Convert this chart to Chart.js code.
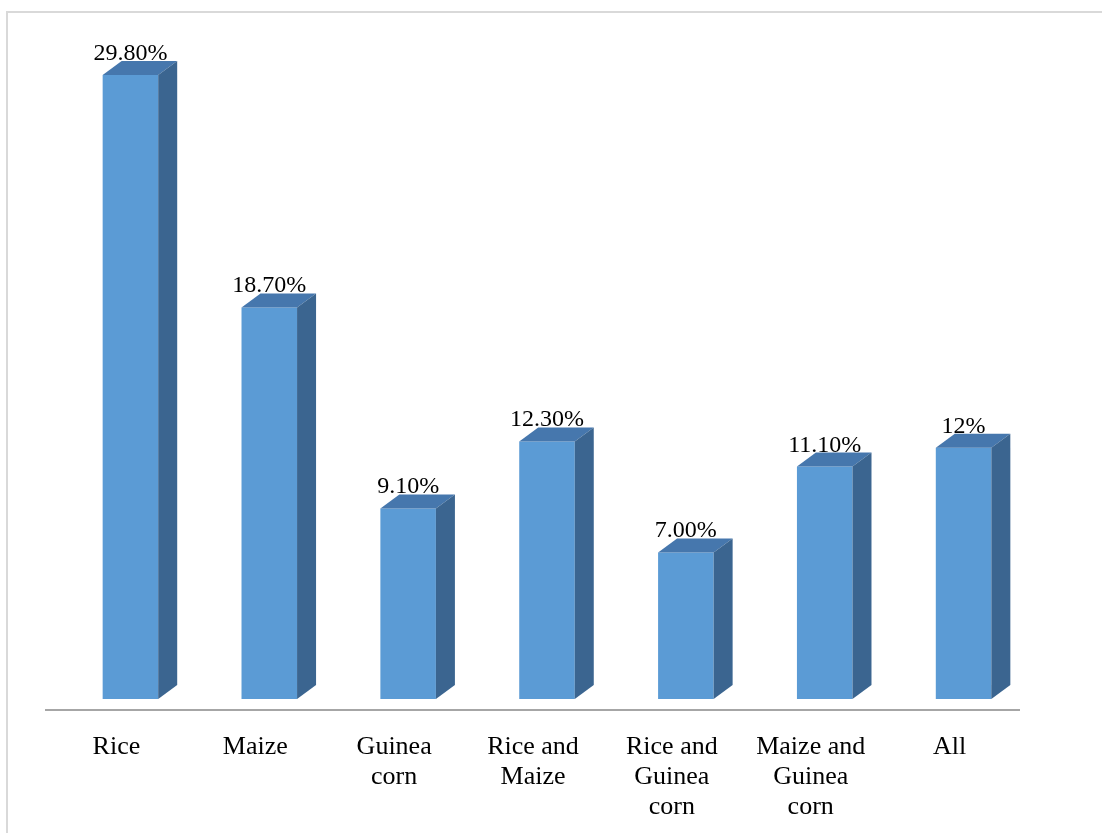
<!DOCTYPE html>
<html>
<head>
<meta charset="utf-8">
<script src="https://cdn.jsdelivr.net/npm/chart.js"></script>
<style>
  body { margin: 0; background: #fff; }
</style>
</head>
<body>
<canvas id="myChartCrops" width="1102" height="833"></canvas>
<script>
const categories = [
    ['Rice'],
    ['Maize'],
    ['Guinea', 'corn'],
    ['Rice and', 'Maize'],
    ['Rice and', 'Guinea', 'corn'],
    ['Maize and', 'Guinea', 'corn'],
    ['All']
];
const values = [29.8, 18.7, 9.1, 12.3, 7.0, 11.1, 12];
const valueLabels = ['29.80%', '18.70%', '9.10%', '12.30%', '7.00%', '11.10%', '12%'];

const serif = "'Liberation Serif', 'Times New Roman', serif";

// frame + baseline + fake 3d faces
const bar3d = {
  id: 'bar3d',
  beforeDraw(chart) {
    const c = chart.ctx;
    c.save();
    c.strokeStyle = '#d9d9d9';
    c.lineWidth = 2;
    c.beginPath();
    c.moveTo(7, 833);
    c.lineTo(7, 12);
    c.lineTo(1102, 12);
    c.stroke();
    c.restore();
  },
  afterDatasetsDraw(chart) {
    const c = chart.ctx;
    const dx = 19, dy = 14;
    const meta = chart.getDatasetMeta(0);
    c.save();
    meta.data.forEach((bar, i) => {
      const l = bar.x - bar.width / 2;
      const r = bar.x + bar.width / 2;
      const t = bar.y;
      const b = bar.base;
      // top
      c.fillStyle = '#4677ad';
      c.beginPath();
      c.moveTo(l, t);
      c.lineTo(r, t);
      c.lineTo(r + dx, t - dy);
      c.lineTo(l + dx, t - dy);
      c.closePath();
      c.fill();
      // side
      c.fillStyle = '#3b6590';
      c.beginPath();
      c.moveTo(r, t);
      c.lineTo(r + dx, t - dy);
      c.lineTo(r + dx, b - dy);
      c.lineTo(r, b);
      c.closePath();
      c.fill();
      // value label
      c.fillStyle = '#000';
      c.font = '24px ' + serif;
      c.textAlign = 'center';
      c.textBaseline = 'alphabetic';
      c.fillText(valueLabels[i], bar.x, t - 15);
    });
    // baseline
    const a = chart.chartArea;
    c.strokeStyle = '#a6a6a6';
    c.lineWidth = 2;
    c.beginPath();
    c.moveTo(a.left - 16, a.bottom + 11);
    c.lineTo(a.right - 13, a.bottom + 11);
    c.stroke();
    c.restore();
  }
};

const ctx = document.getElementById('myChartCrops');

new Chart(ctx, {
  type: 'bar',
  data: {
    labels: categories,
    datasets: [
      {
        label: 'Crops',
        data: values,
        backgroundColor: '#5b9bd5',
        borderWidth: 0,
        barPercentage: 0.4,
        categoryPercentage: 1
      }
    ]
  },
  options: {
    responsive: false,
    animation: false,
    layout: {
      padding: { left: 61, right: 69, top: 29, bottom: 0 }
    },
    plugins: {
      legend: { display: false },
      tooltip: { enabled: false }
    },
    scales: {
      x: {
        grid: { display: false, drawTicks: false },
        border: { display: false },
        ticks: {
          color: '#000',
          font: { family: serif, size: 26, lineHeight: 1.15 },
          padding: 33,
          labelOffset: -14,
          maxRotation: 0,
          autoSkip: false
        },
        afterFit(scale) {
          scale.height = 134;
        }
      },
      y: {
        display: false,
        min: 0,
        max: 32
      }
    }
  },
  plugins: [bar3d]
});
</script>
</body>
</html>
